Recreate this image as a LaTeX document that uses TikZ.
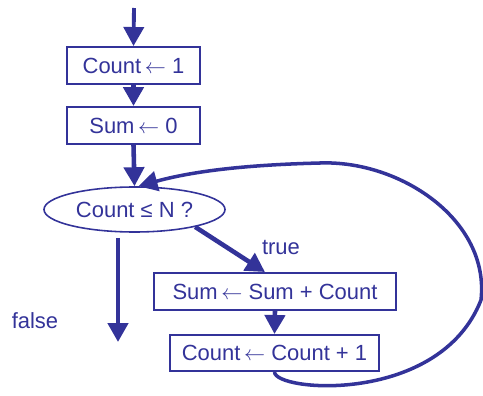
\documentclass[tikz,border=0pt]{standalone}
\usepackage{fontspec}
\setmainfont{Liberation Sans}
\usetikzlibrary{shapes.geometric,arrows.meta}
\definecolor{azul}{HTML}{333399}
\newcommand{\asig}{\,$\leftarrow$ }

\begin{document}
\begin{tikzpicture}[
    every node/.style={text=azul, font=\fontsize{12.5}{15}\selectfont},
    caja/.style={draw=azul, line width=1.1pt, rectangle, minimum height=0.74cm},
    flecha/.style={draw=azul, line width=2.6pt, -{Triangle[length=0.38cm,width=0.4cm]}}
  ]
  \useasboundingbox (0,0) rectangle (9.66,7.9);

  % Cajas y condicion
  \node[caja, minimum width=2.66cm] (cuenta) at (2.67,6.59) {Count\asig1};
  \node[caja, minimum width=2.66cm] (suma) at (2.67,5.39) {Sum\asig0};
  \node[draw=azul, line width=0.9pt, ellipse, inner sep=0pt,
        minimum width=3.62cm, minimum height=0.9cm] (cond) at (2.69,3.71) {Count ≤ N ?};
  \node[caja, minimum width=4.84cm] (acum) at (5.5,2.07) {Sum\asig Sum + Count};
  \node[caja, minimum width=4.18cm, minimum height=0.72cm] (incr) at (5.49,0.84) {Count\asig Count + 1};

  % Extremos libres
  \coordinate (inicio) at (2.68,7.74);
  \coordinate (fin) at (2.36,1.06);

  % Flechas
  \draw[flecha, line width=2.2pt] (inicio) -- (cuenta.north);
  \draw[flecha] (cuenta.south) -- (suma.north);
  \draw[flecha] (suma.south) -- (cond.north);
  \draw[flecha] (cond.-16) -- ([xshift=-0.2cm]acum.north);
  \draw[flecha] (acum.south) -- (incr.north);
  \draw[flecha] ([yshift=-0.1cm]cond.south -| fin) -- (fin);

  % Lazo de vuelta
  \draw[flecha, line width=2pt] (incr.south)
      .. controls (5.5,0.06) and (8.8,-0.2) .. (9.62,1.9)
      .. controls (9.8,3.5) and (8.0,4.7) .. (6.4,4.64)
      .. controls (4.8,4.6) and (3.8,4.46) .. ([xshift=0.08cm]cond.north);

  % Etiquetas
  \node (verdad) at (5.62,2.94) {true};
  \node (falso) at (0.7,1.48) {false};
\end{tikzpicture}
\end{document}
